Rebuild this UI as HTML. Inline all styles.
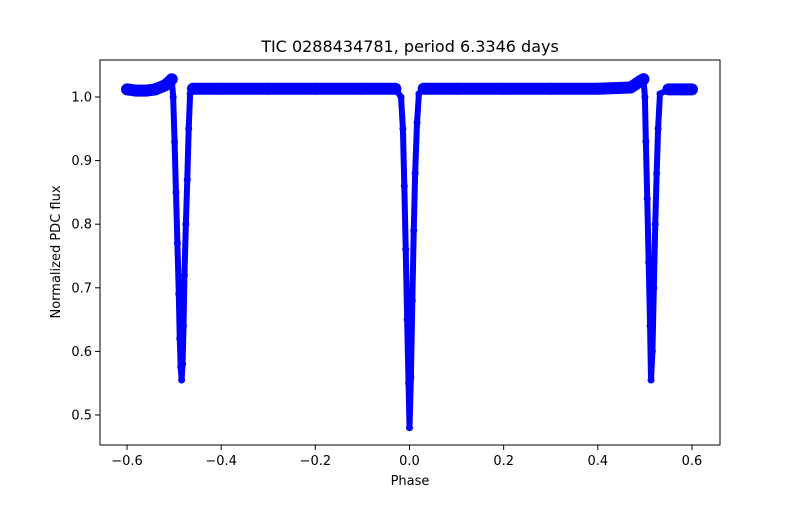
<!DOCTYPE html>
<html><head><meta charset="utf-8"><style>
body{margin:0;background:#fff;}
svg text{font-family:"DejaVu Sans","Liberation Sans",sans-serif;}
</style></head><body>
<svg id="chart" width="800" height="500" xmlns="http://www.w3.org/2000/svg">
<rect width="800" height="500" fill="#fff"/>
<text x="410" y="52" text-anchor="middle" font-size="16">TIC 0288434781, period 6.3346 days</text>
<g id="marks"></g>
<rect x="100" y="60" width="620" height="385" fill="none" stroke="#000" stroke-width="1"/>
<g id="xt"></g>
<g id="yt"></g>
<text x="410" y="485" text-anchor="middle" font-size="13">Phase</text>
<text x="0" y="0" transform="translate(60,252) rotate(-90)" text-anchor="middle" font-size="13">Normalized PDC flux</text>
</svg>
<script>
const phase=[-0.6,-0.58,-0.56,-0.54,-0.52,-0.51,-0.505,-0.502,-0.499,-0.496,-0.493,-0.490,-0.488,-0.486,-0.484,-0.482,-0.480,-0.478,-0.475,-0.472,-0.469,-0.466,-0.46,-0.4,-0.3,-0.2,-0.1,-0.03,-0.018,-0.014,-0.011,-0.008,-0.005,-0.002,0,0.003,0.006,0.009,0.012,0.016,0.02,0.03,0.1,0.2,0.3,0.4,0.47,0.49,0.497,0.500,0.502,0.505,0.508,0.511,0.513,0.516,0.519,0.522,0.525,0.528,0.532,0.55,0.58,0.6];
const flux=[1.012,1.010,1.010,1.012,1.018,1.024,1.028,1.0,0.93,0.85,0.77,0.69,0.62,0.575,0.555,0.58,0.64,0.72,0.80,0.87,0.95,1.005,1.013,1.013,1.013,1.013,1.013,1.013,1.0,0.95,0.86,0.76,0.65,0.55,0.48,0.56,0.68,0.79,0.88,0.96,1.005,1.013,1.013,1.013,1.013,1.013,1.015,1.025,1.028,1.0,0.93,0.84,0.74,0.64,0.555,0.60,0.70,0.80,0.88,0.95,1.005,1.012,1.012,1.012];
const xTicks=[-0.6,-0.4,-0.2,0.0,0.2,0.4,0.6];
const xTickLabels=["−0.6","−0.4","−0.2","0.0","0.2","0.4","0.6"];
const yTicks=[0.5,0.6,0.7,0.8,0.9,1.0];
const yTickLabels=["0.5","0.6","0.7","0.8","0.9","1.0"];
const NS="http://www.w3.org/2000/svg";
const xs=p=>409.5+p*470.8;
const ys=f=>97+(1.0-f)*636;
const marks=document.getElementById('marks');
for(let i=0;i<phase.length-1;i++){
  const l=document.createElementNS(NS,'line');
  
  
  const base=flux[i]>1.005&&flux[i+1]>1.005;
  l.setAttribute('x1',xs(phase[i]));l.setAttribute('y1',ys(flux[i]));
  l.setAttribute('x2',xs(phase[i+1]));l.setAttribute('y2',ys(flux[i+1]));
  l.setAttribute('stroke','#0000ff');l.setAttribute('stroke-width',base?12:6);
  l.setAttribute('stroke-linecap','round');
  marks.appendChild(l);
}
for(let i=0;i<phase.length;i++){
  const c=document.createElementNS(NS,'circle');
  
  
  c.setAttribute('cx',xs(phase[i]));c.setAttribute('cy',ys(flux[i]));
  c.setAttribute('r',3.5);c.setAttribute('fill','#0000ff');
  marks.appendChild(c);
}
const xt=document.getElementById('xt');
xTicks.forEach((v,i)=>{
  const l=document.createElementNS(NS,'line');
  
  
  l.setAttribute('x1',xs(v));l.setAttribute('x2',xs(v));l.setAttribute('y1',445);l.setAttribute('y2',450);l.setAttribute('stroke','#000');
  xt.appendChild(l);
  const t=document.createElementNS(NS,'text');
  
  
  t.setAttribute('x',xs(v));t.setAttribute('y',465);t.setAttribute('text-anchor','middle');t.setAttribute('font-size','13');
  t.textContent=xTickLabels[i];xt.appendChild(t);
});
const yt=document.getElementById('yt');
yTicks.forEach((v,i)=>{
  const l=document.createElementNS(NS,'line');
  
  
  l.setAttribute('x1',95);l.setAttribute('x2',100);l.setAttribute('y1',ys(v));l.setAttribute('y2',ys(v));l.setAttribute('stroke','#000');
  yt.appendChild(l);
  const t=document.createElementNS(NS,'text');
  
  
  t.setAttribute('x',92);t.setAttribute('y',ys(v)+4.5);t.setAttribute('text-anchor','end');t.setAttribute('font-size','13');
  t.textContent=yTickLabels[i];yt.appendChild(t);
});
</script>
</body></html>
